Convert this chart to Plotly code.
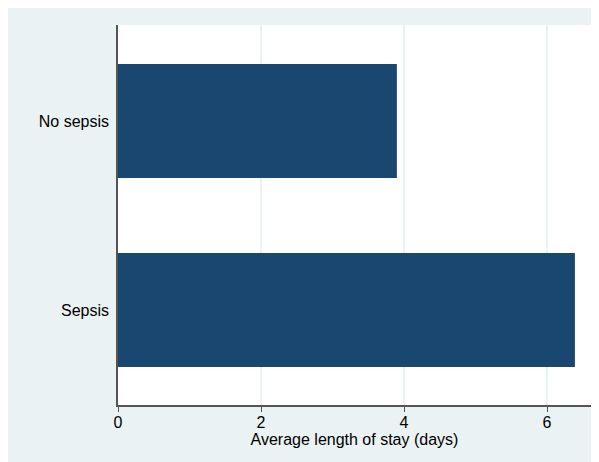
import plotly.graph_objects as go

categories = ["Sepsis", "No sepsis"]
avg_los = [6.39, 3.90]
x_ticks = [0, 2, 4, 6]
x_title = "Average length of stay (days)"

BG = "#EAF2F3"
BAR = "#1A476F"
AX = "#555555"
FONT = "Liberation Sans, Arial, sans-serif"

fig = go.Figure(
    go.Bar(
        x=avg_los,
        y=categories,
        orientation="h",
        width=0.603,
        marker=dict(color=BAR, line=dict(width=0)),
    )
)

fig.update_layout(
    width=599,
    height=462,
    margin=dict(l=110, r=16, t=17, b=65),
    paper_bgcolor=BG,
    plot_bgcolor="white",
    showlegend=False,
    font=dict(family=FONT, size=16, color="#000000"),
    xaxis=dict(
        range=[0, 6.615],
        tickvals=x_ticks,
        ticktext=[str(t) for t in x_ticks],
        ticks="outside",
        ticklen=5,
        tickcolor=AX,
        tickwidth=1,
        showline=True,
        linecolor=AX,
        linewidth=1.5,
        showgrid=True,
        gridcolor=BG,
        gridwidth=1.5,
        zeroline=False,
        ticklabelstandoff=-3,
        title=dict(text=x_title, standoff=0, font=dict(size=16)),
        tickfont=dict(size=16),
        fixedrange=True,
    ),
    yaxis=dict(
        type="category",
        categoryorder="array",
        categoryarray=categories,
        range=[-0.503, 1.508],
        ticks="",
        showline=True,
        linecolor=AX,
        linewidth=1.5,
        showgrid=False,
        zeroline=False,
        ticklabelstandoff=4,
        tickfont=dict(size=16),
        fixedrange=True,
    ),
)

fig.write_html("out.html", config={"displayModeBar": False})
